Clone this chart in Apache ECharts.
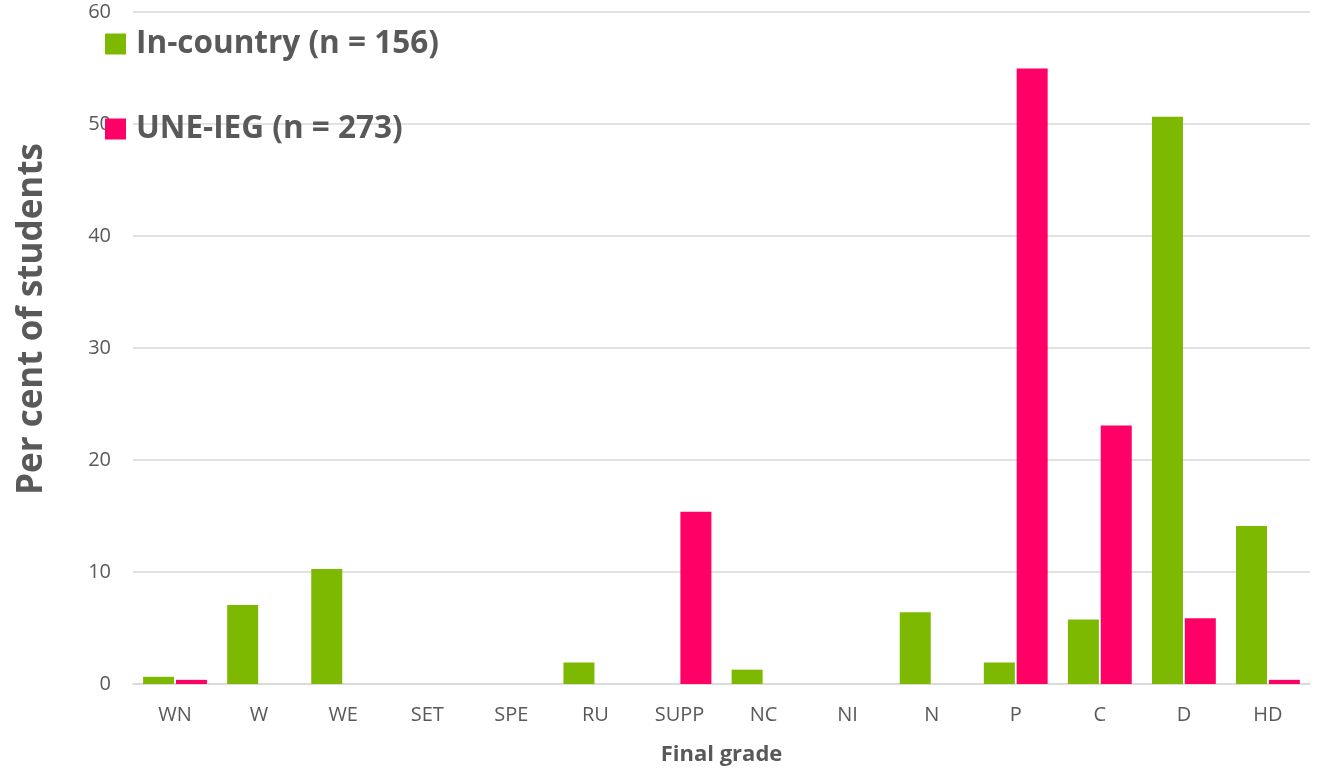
<!DOCTYPE html>
<html><head><meta charset="utf-8">
<script src="https://cdn.jsdelivr.net/npm/echarts@6/dist/echarts.min.js"></script>
<style>html,body{margin:0;padding:0;background:#fff}#c{width:1321px;height:768px}</style>
</head><body><div id="c"></div>
<script>
const categories = ['WN','W','WE','SET','SPE','RU','SUPP','NC','NI','N','P','C','D','HD'];
const inCountry = [0.64, 7.05, 10.26, 0, 0, 1.92, 0, 1.28, 0, 6.41, 1.92, 5.77, 50.64, 14.1];
const uneIeg = [0.37, 0, 0, 0, 0, 0, 15.38, 0, 0, 0, 54.95, 23.08, 5.86, 0.37];
const seriesNames = ['In-country (n = 156)', 'UNE-IEG (n = 273)'];
const yTicks = {min: 0, max: 60, interval: 10};

const font = 'Open Sans';
const chart = echarts.init(document.getElementById('c'));
const legendText = {fontFamily: font, fontSize: 31.5, fontWeight: 'bold', color: '#595959', padding: [0, 0, 0, 5]};
chart.setOption({
  animation: false,
  grid: {left: 133, right: 11, top: 12, bottom: 84, containLabel: false, outerBoundsMode: 'none'},
  legend: [
    {data: [seriesNames[0]], left: 100, top: 23, itemWidth: 21, itemHeight: 21, itemGap: 15, textStyle: legendText, z: 10, icon: 'rect'},
    {data: [seriesNames[1]], left: 100, top: 108, itemWidth: 21, itemHeight: 21, itemGap: 15, textStyle: legendText, z: 10, icon: 'rect'}
  ],
  xAxis: {
    type: 'category', data: categories,
    axisLine: {lineStyle: {color: '#d9d9d9', width: 1.5}},
    axisTick: {show: false},
    axisLabel: {fontFamily: font, fontSize: 20, color: '#595959', margin: 21},
    name: 'Final grade', nameLocation: 'middle', nameGap: 60,
    nameTextStyle: {fontFamily: font, fontSize: 22, fontWeight: 'bold', color: '#595959'}
  },
  yAxis: {
    type: 'value', min: yTicks.min, max: yTicks.max, interval: yTicks.interval,
    axisLine: {show: false}, axisTick: {show: false},
    splitLine: {lineStyle: {color: '#d9d9d9', width: 1.5}},
    axisLabel: {fontFamily: font, fontSize: 20, color: '#595959', margin: 22},
    name: 'Per cent of students', nameLocation: 'middle', nameGap: 83,
    nameTextStyle: {fontFamily: font, fontSize: 35, fontWeight: 'bold', color: '#595959', padding: [0, 0, 0, 58]}
  },
  series: [
    {name: seriesNames[0], type: 'bar', data: inCountry, barWidth: 31, barGap: '6%', itemStyle: {color: '#7cb900'}},
    {name: seriesNames[1], type: 'bar', data: uneIeg, barWidth: 31, itemStyle: {color: '#ff0066'}}
  ]
});
</script></body></html>
